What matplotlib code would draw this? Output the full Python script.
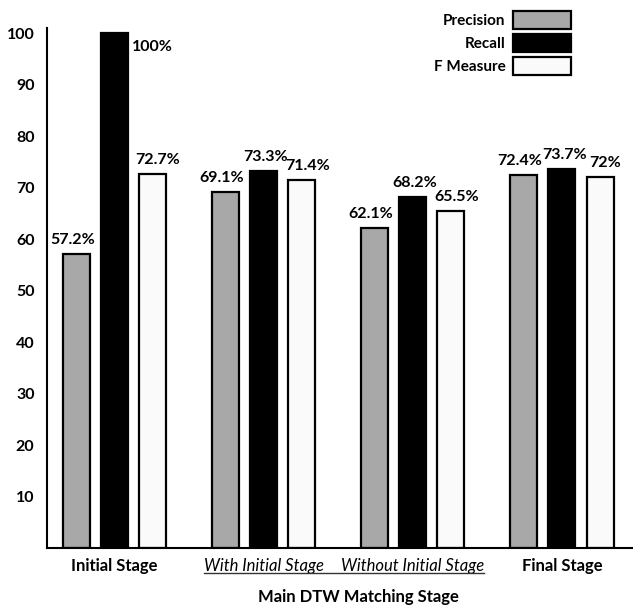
import matplotlib.pyplot as plt
import numpy as np
from matplotlib.lines import Line2D

stages = ['Initial Stage', 'With Initial Stage', 'Without Initial Stage', 'Final Stage']
precision = [57.2, 69.1, 62.1, 72.4]
recall = [100, 73.3, 68.2, 73.7]
f_measure = [72.7, 71.4, 65.5, 72]
series_names = ['Precision', 'Recall', 'F Measure']
yticks = [10, 20, 30, 40, 50, 60, 70, 80, 90, 100]

plt.rcParams['font.family'] = ['Lato', 'DejaVu Sans']

fig = plt.figure(figsize=(6.33, 6.08), dpi=100)
ax = fig.add_axes([47 / 633, 1 - 548 / 608, 586 / 633, 520 / 608])

x = np.arange(len(stages))
step = 0.255
width = 0.181
colors = ['#a8a8a8', '#000000', '#fafafa']
nudge = [-3, 1.5, 4]  # small sideways shift of value labels, in points

handles = []
for i, (vals, col) in enumerate(zip([precision, recall, f_measure], colors)):
    pos = x + (i - 1) * step
    b = ax.bar(pos, vals, width, color=col, edgecolor='black', linewidth=1.6,
               label=series_names[i])
    handles.append(b)
    for px, v in zip(pos, vals):
        txt = f'{v:g}%'
        if v >= 100:
            # bar hits the top, label goes beside it
            ax.annotate(txt, (px + step, v), xytext=(0, -5), textcoords='offset points',
                        ha='center', va='top', fontsize=11.5, fontweight='bold')
        else:
            ax.annotate(txt, (px, v), xytext=(nudge[i], 5), textcoords='offset points',
                        ha='center', va='bottom', fontsize=11.5, fontweight='bold')

ax.set_xlim(-0.452, 3.476)
ax.set_ylim(0, 101)
ax.set_yticks(yticks)
ax.set_yticklabels([str(t) for t in yticks], fontsize=11.5, fontweight='bold')
ax.tick_params(axis='y', length=0, pad=9)
ax.tick_params(axis='x', length=0, pad=7)
ax.set_xticks(x)
ax.set_xticklabels(stages, fontsize=12)
for j, lab in enumerate(ax.get_xticklabels()):
    if j in (1, 2):
        lab.set_fontstyle('italic')
    else:
        lab.set_fontweight('bold')

for s in ['top', 'right']:
    ax.spines[s].set_visible(False)
ax.spines['left'].set_linewidth(1.5)
ax.spines['bottom'].set_linewidth(1.5)

fig.text(358 / 633, 1 - 597 / 608, 'Main DTW Matching Stage', ha='center', va='center',
         fontsize=12, fontweight='bold')

leg = fig.legend(handles=handles, loc='upper right', bbox_to_anchor=(571 / 633, 1 - 11 / 608),
                 frameon=False, markerfirst=False, handlelength=3.8, handleheight=1.4,
                 labelspacing=0.35, handletextpad=0.5, borderpad=0, borderaxespad=0,
                 prop={'weight': 'bold', 'size': 11})

# underline under the two middle stage labels
fig.canvas.draw()
r = fig.canvas.get_renderer()
labs = ax.get_xticklabels()
b1 = labs[1].get_window_extent(r)
b2 = labs[2].get_window_extent(r)
inv = fig.transFigure.inverted()
(x0, y0) = inv.transform((b1.x0, b1.y0 + 1))
(x1, _) = inv.transform((b2.x1, b2.y0 + 1))
fig.add_artist(Line2D([x0, x1], [y0, y0], color='#333333', linewidth=1.0, transform=fig.transFigure))

fig.savefig('out.png', dpi=100)
